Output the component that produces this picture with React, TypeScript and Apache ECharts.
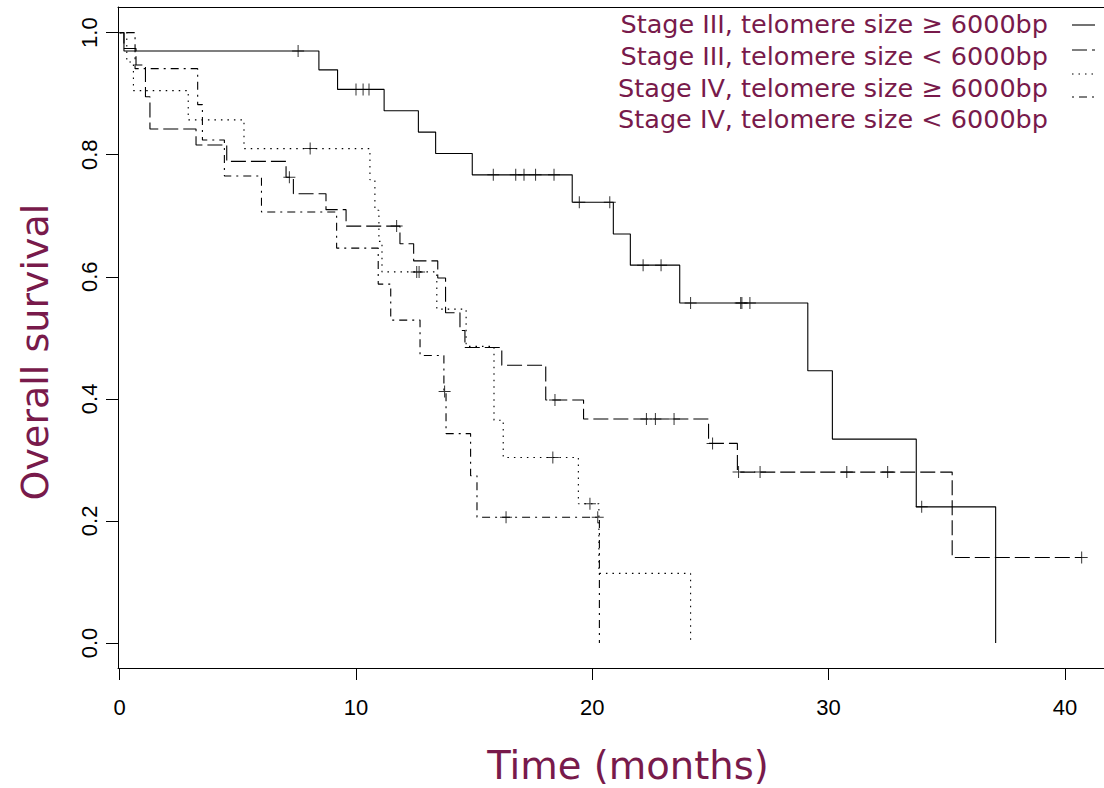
import React, { useEffect, useRef } from "react";
import * as echarts from "echarts";

// ---- tick values ----
const xTicks = [0, 10, 20, 30, 40];
const yTicks = [0, 0.2, 0.4, 0.6, 0.8, 1.0];

// ---- legend ----
const legendLabels = [
  "Stage III, telomere size \u2265 6000bp",
  "Stage III, telomere size < 6000bp",
  "Stage IV, telomere size \u2265 6000bp",
  "Stage IV, telomere size < 6000bp",
];

// ---- Stage III, telomere >= 6000bp (solid) ----
const aTimes = [0, 0.18, 8.43, 9.22, 11.19, 12.64, 13.37, 14.92, 19.15, 20.89, 21.61, 23.7, 29.12, 30.16, 33.71, 37.07];
const aSurv = [1, 0.97, 0.939, 0.907, 0.872, 0.837, 0.802, 0.767, 0.722, 0.67, 0.619, 0.557, 0.446, 0.334, 0.223, 0];
const aCensor = [7.55, 10.0, 10.3, 10.55, 15.81, 16.76, 17.11, 17.6, 18.38, 19.45, 20.74, 22.15, 22.91, 24.16, 26.28, 26.33, 26.67, 33.94];

// ---- Stage III, telomere < 6000bp (long dash) ----
const bTimes = [0, 0.18, 0.69, 1.09, 1.28, 3.23, 4.53, 7.04, 7.35, 8.73, 9.58, 11.86, 12.44, 13.46, 13.79, 14.4, 14.61, 16.17, 18.03, 19.63, 24.92, 26.14, 35.23, 40.71];
const bSurv = [1, 0.974, 0.947, 0.895, 0.842, 0.816, 0.789, 0.763, 0.736, 0.71, 0.683, 0.654, 0.626, 0.598, 0.541, 0.512, 0.484, 0.455, 0.398, 0.367, 0.327, 0.28, 0.14, 0.14];
const bCensor = [7.18, 11.72, 18.42, 22.29, 22.67, 23.46, 25.09, 26.19, 27.1, 30.77, 32.5, 40.71];

// ---- Stage IV, telomere >= 6000bp (dotted) ----
const cTimes = [0, 0.3, 0.58, 2.9, 5.26, 10.59, 10.8, 10.97, 11.1, 13.42, 14.66, 15.84, 16.23, 19.41, 20.28, 24.16];
const cSurv = [1, 0.952, 0.905, 0.857, 0.81, 0.759, 0.709, 0.658, 0.608, 0.547, 0.486, 0.365, 0.304, 0.228, 0.114, 0];
const cCensor = [8.06, 12.57, 12.67, 18.33, 19.9];

// ---- Stage IV, telomere < 6000bp (dot-dash) ----
const dTimes = [0, 0.65, 3.3, 3.5, 4.43, 6.0, 9.18, 10.94, 11.47, 12.71, 13.72, 13.81, 14.85, 15.12, 20.3];
const dSurv = [1, 0.941, 0.882, 0.824, 0.765, 0.706, 0.647, 0.588, 0.529, 0.471, 0.412, 0.343, 0.274, 0.206, 0];
const dCensor = [13.75, 16.35, 20.23];

const MAROON = "#781a4b";
const TITLE_FONT = "'Comic Sans MS', 'DejaVu Sans', sans-serif";
const TICK_FONT = "'Liberation Sans', Arial, sans-serif";

const DASHES: (number[] | "solid")[] = ["solid", [15, 5], [1.5, 5], [2, 5, 8, 5]];

function survAt(times: number[], surv: number[], t: number) {
  let v = surv[0];
  for (let i = 0; i < times.length; i++) if (times[i] <= t) v = surv[i];
  return v;
}

const curves = [
  { times: aTimes, surv: aSurv, censor: aCensor },
  { times: bTimes, surv: bSurv, censor: bCensor },
  { times: cTimes, surv: cSurv, censor: cCensor },
  { times: dTimes, surv: dSurv, censor: dCensor },
];

const PLUS = "path://M0,5.5H12V6.5H0Z M5.5,0H6.5V12H5.5Z";

export default function App() {
  const ref = useRef<HTMLDivElement>(null);
  useEffect(() => {
    document.body.style.margin = "0";
    if (!ref.current) return;
    const chart = echarts.init(ref.current, undefined, { renderer: "svg" });
    const X_MIN = -0.072;
    const X_MAX = 41.655;
    const Y_MIN = -0.041;
    const Y_MAX = 1.042;

    const series: any[] = [];
    curves.forEach((c, i) => {
      series.push({
        type: "line",
        step: "end",
        showSymbol: false,
        data: c.times.map((t, j) => [t, c.surv[j]]),
        lineStyle: { color: "#000", width: 1.1, type: DASHES[i] },
        z: 2,
      });
      series.push({
        type: "scatter",
        symbol: PLUS,
        symbolSize: 12,
        data: c.censor.map((t) => [t, survAt(c.times, c.surv, t)]),
        itemStyle: { color: "#000" },
        z: 3,
      });
    });

    const legendY = [24, 56, 88, 119];
    const sampleY = [25, 50, 74, 97];
    const graphics: any[] = [];
    legendLabels.forEach((lab, i) => {
      graphics.push({
        type: "text",
        x: 1048,
        y: legendY[i],
        style: {
          text: lab,
          align: "right",
          verticalAlign: "middle",
          fill: MAROON,
          font: `25.5px ${TITLE_FONT}`,
        },
      });
      graphics.push({
        type: "line",
        shape: { x1: 1072, y1: sampleY[i], x2: 1095, y2: sampleY[i] },
        style: {
          stroke: "#000",
          lineWidth: 1.1,
          lineDash: DASHES[i] === "solid" ? null : DASHES[i],
        },
      });
    });
    graphics.push({
      type: "text",
      x: 628,
      y: 765,
      style: {
        text: "Time (months)",
        align: "center",
        verticalAlign: "middle",
        fill: MAROON,
        font: `38.5px ${TITLE_FONT}`,
      },
    });
    graphics.push({
      type: "text",
      x: 35,
      y: 352,
      rotation: Math.PI / 2,
      style: {
        text: "Overall survival",
        align: "center",
        verticalAlign: "middle",
        fill: MAROON,
        font: `38px ${TITLE_FONT}`,
      },
    });

    chart.setOption({
      animation: false,
      grid: { left: 118, right: 0, top: 7, bottom: 120, containLabel: false },
      xAxis: [
        {
          type: "value",
          min: X_MIN,
          max: X_MAX,
          axisLine: { show: true, onZero: false, lineStyle: { color: "#000", width: 1 } },
          axisTick: { show: true, length: 12, customValues: xTicks, lineStyle: { color: "#000" } },
          axisLabel: {
            customValues: xTicks,
            fontSize: 22,
            color: "#000",
            fontFamily: TICK_FONT,
            margin: 28,
            showMinLabel: true,
            showMaxLabel: true,
          },
          splitLine: { show: false },
        },
        {
          type: "value",
          position: "top",
          min: X_MIN,
          max: X_MAX,
          axisLine: { show: true, onZero: false, lineStyle: { color: "#000", width: 1 } },
          axisTick: { show: false },
          axisLabel: { show: false },
          splitLine: { show: false },
        },
      ],
      yAxis: {
        type: "value",
        min: Y_MIN,
        max: Y_MAX,
        axisLine: { show: true, onZero: false, lineStyle: { color: "#000", width: 1 } },
        axisTick: { show: true, length: 12, customValues: yTicks, lineStyle: { color: "#000" } },
        axisLabel: {
          customValues: yTicks,
          rotate: 90,
          fontSize: 22,
          color: "#000",
          fontFamily: TICK_FONT,
          margin: 18,
          formatter: (v: number) => v.toFixed(1),
        },
        splitLine: { show: false },
      },
      series,
      graphic: graphics,
    });
    return () => chart.dispose();
  }, []);
  return (
    <div
      ref={ref}
      style={{ position: "absolute", left: 0, top: 0, width: 1104, height: 788, background: "#fff" }}
    />
  );
}
